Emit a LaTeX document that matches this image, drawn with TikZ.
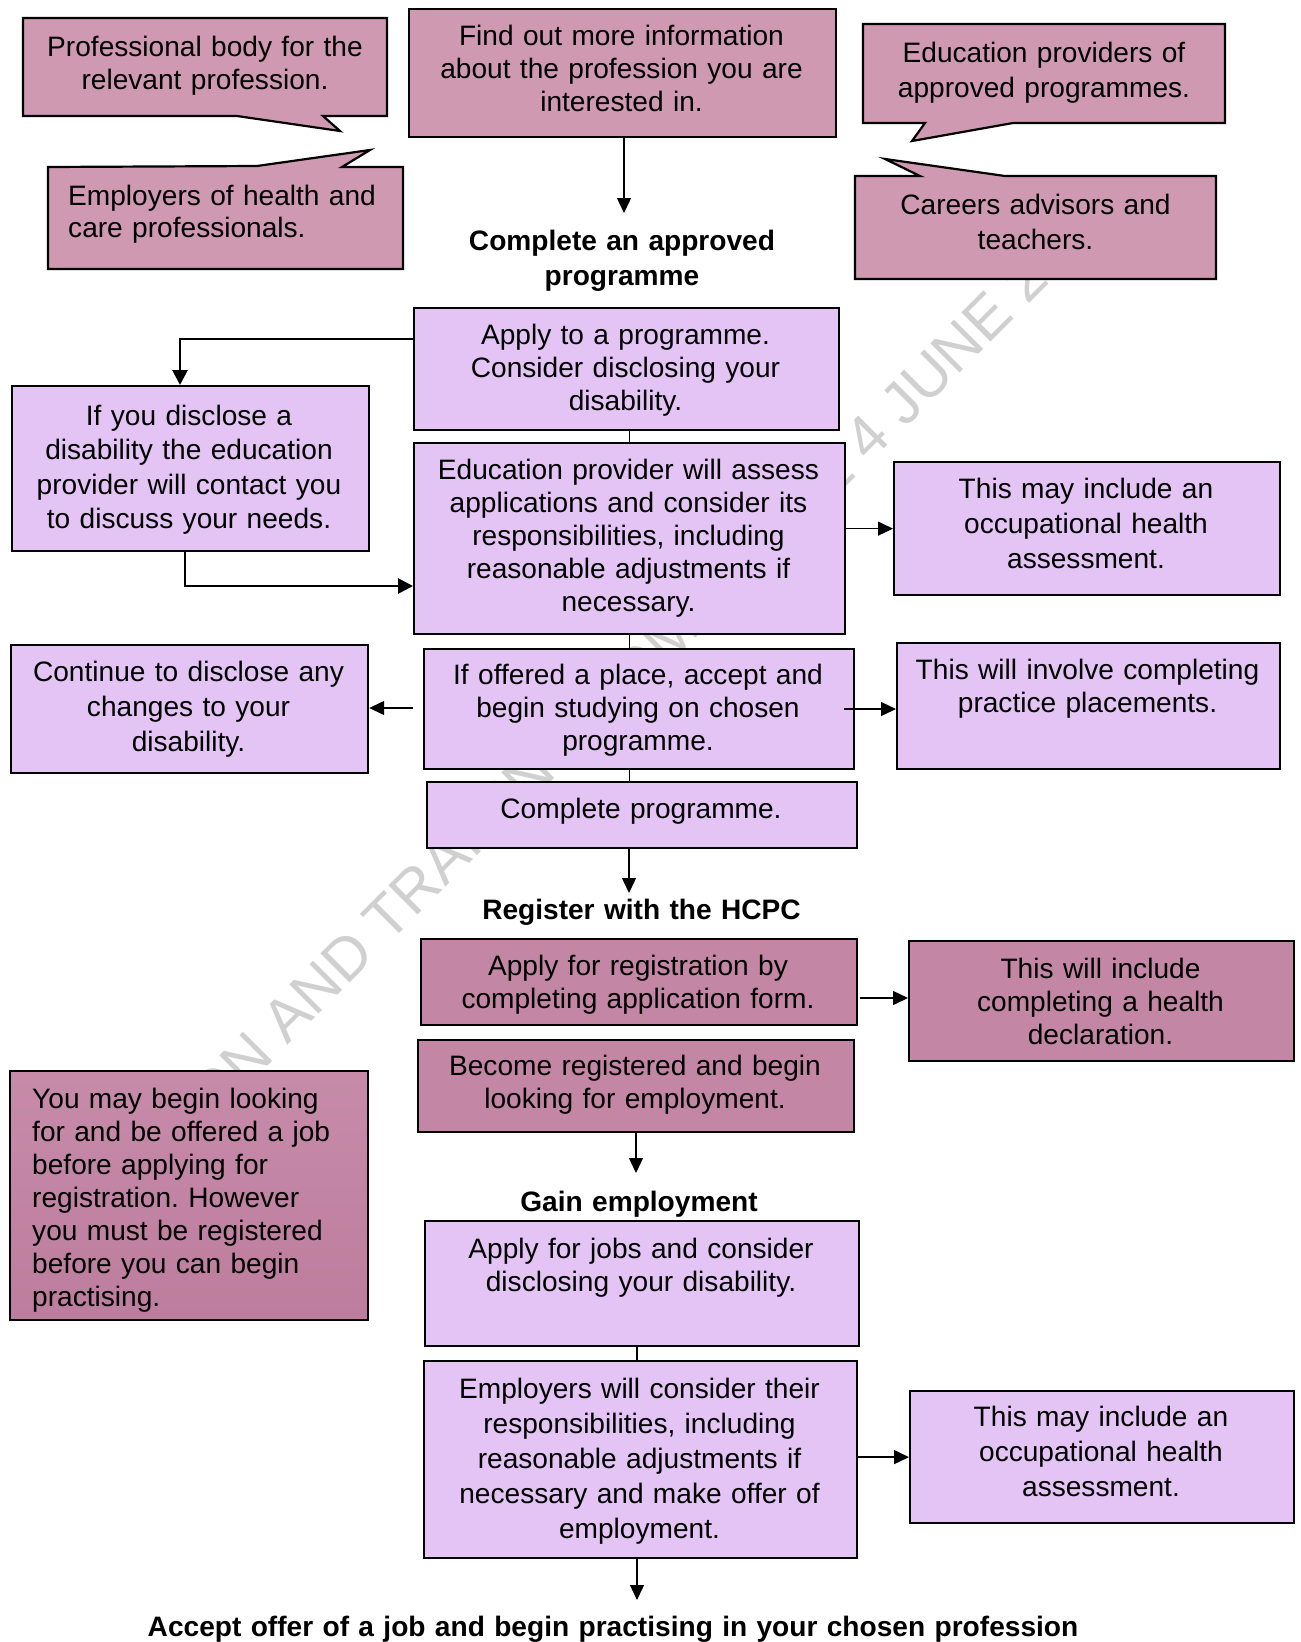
\documentclass[tikz,border=0pt]{standalone}
\usepackage{fontspec}
\setmainfont{Liberation Sans}
\usetikzlibrary{arrows.meta}
\definecolor{callC}{RGB}{208,153,178}
\definecolor{regC}{RGB}{196,134,165}
\definecolor{lilac}{RGB}{228,196,245}
\definecolor{wmC}{RGB}{208,208,208}
\definecolor{mayTop}{RGB}{199,139,170}
\definecolor{mayBot}{RGB}{189,125,158}
\newcommand\fa{\fontsize{28.1pt}{33pt}\selectfont}
\newcommand\fb{\fontsize{28.1pt}{35pt}\selectfont}
\newcommand\fab{\fontsize{28.1pt}{34.5pt}\selectfont}
\frenchspacing
\begin{document}
\begin{tikzpicture}[x=1pt,y=-1pt,
  bx/.style={draw=black, line width=2.2pt, inner sep=0pt, anchor=north west},
  lbox/.style={bx, fill=lilac},
  rbox/.style={bx, fill=regC},
  cbox/.style={bx, fill=callC},
  callout/.style={draw=black, line width=2.2pt, fill=callC, line join=miter},
  ctxt/.style={inner sep=0pt, text width=520pt, align=center, anchor=base, font=\fa},
  ctxtb/.style={ctxt, font=\fb},
  ltxt/.style={inner sep=0pt, text width=420pt, align=left, anchor=base west, font=\fa},
  htxt/.style={inner sep=0pt, text width=1100pt, align=center, anchor=base, font=\fb\bfseries},
  conn/.style={line width=1.4pt, -{Triangle[length=15pt,width=14pt]}},
  thk/.style={line width=2.8pt, -{Triangle[length=15pt,width=15pt]}},
  plain/.style={line width=1.4pt}
]
\useasboundingbox (0,0) rectangle (1301,1642);
\fill[white] (0,0) rectangle (1301,1642);

% watermark
\begin{scope}
\clip (14,0) rectangle (1301,1642);
\node[rotate=45, text=wmC, inner sep=0pt, font=\fontsize{60pt}{60pt}\selectfont] (wm) at (561,743) {EDUCATION AND TRAINING COMMITTEE 4 JUNE 2015};
\end{scope}

% callouts
\draw[callout] (23,18) -- (387,18) -- (387,116) -- (323,116) -- (340,131) -- (237,116) -- (23,116) -- cycle;
\draw[callout] (48,167) -- (257,166) -- (370,150) -- (342,167) -- (403,167) -- (403,269) -- (48,269) -- cycle;
\draw[callout] (863,24) -- (1225,24) -- (1225,123) -- (1013,123) -- (912,141) -- (925,123) -- (863,123) -- cycle;
\draw[callout] (855,176) -- (920,176) -- (885,159) -- (1005,176) -- (1216,176) -- (1216,279) -- (855,279) -- cycle;
\node[ctxt] (prof) at (205,56) {Professional body for the\\relevant profession.};
\node[ltxt, font=\fontsize{28.1pt}{32pt}\selectfont] (emplc) at (68,205) {Employers of health and\\care professionals.};
\node[ctxtb] (edu) at (1044,62.5) {Education providers of\\approved programmes.};
\node[ctxtb] (care) at (1035.5,214) {Careers advisors and\\teachers.};

% boxes
\node[cbox, minimum width=427pt, minimum height=128pt] (find) at (408,8) {};
\node[lbox, minimum width=425pt, minimum height=122pt] (apply) at (413,307) {};
\node[lbox, minimum width=431pt, minimum height=191pt] (edprov) at (413,442) {};
\node[lbox, minimum width=357pt, minimum height=165pt] (disc) at (11,385) {};
\node[lbox, minimum width=386pt, minimum height=133pt] (occ1) at (893,461) {};
\node[lbox, minimum width=357pt, minimum height=128pt] (cont) at (10,644) {};
\node[lbox, minimum width=430pt, minimum height=120pt] (offer) at (423,648) {};
\node[lbox, minimum width=383pt, minimum height=126pt] (inv) at (896,642) {};
\node[lbox, minimum width=430pt, minimum height=66pt] (compl) at (426,781) {};
\node[rbox, minimum width=436pt, minimum height=86pt] (reg) at (420,938) {};
\node[rbox, minimum width=385pt, minimum height=120pt] (incl) at (908,940) {};
\node[rbox, minimum width=436pt, minimum height=92pt] (becm) at (417,1039) {};
\node[bx, top color=mayTop, bottom color=mayBot, minimum width=358pt, minimum height=249pt] (may) at (9,1070) {};
\node[lbox, minimum width=434pt, minimum height=125pt] (jobs) at (424,1220) {};
\node[lbox, minimum width=433pt, minimum height=197pt] (empl) at (423,1360) {};
\node[lbox, minimum width=384pt, minimum height=132pt] (occ2) at (909,1390) {};

% texts
\node[ctxt] (findt) at (621.5,45) {Find out more information\\about the profession you are\\interested in.};
\node[htxt] (hdr1) at (622,250) {Complete an approved\\programme};
\node[ctxt] (applyt) at (625.5,344) {Apply to a programme.\\Consider disclosing your\\disability.};
\node[ctxt] (edprovt) at (628.5,479.5) {Education provider will assess\\applications and consider its\\responsibilities, including\\reasonable adjustments if\\necessary.};
\node[ctxt, font=\fab] (disct) at (189,425) {If you disclose a\\disability the education\\provider will contact you\\to discuss your needs.};
\node[ctxtb] (occ1t) at (1086,498) {This may include an\\occupational health\\assessment.};
\node[ctxtb] (contt) at (188.5,681) {Continue to disclose any\\changes to your\\disability.};
\node[ctxt] (offert) at (638,684) {If offered a place, accept and\\begin studying on chosen\\programme.};
\node[ctxt] (invt) at (1087.5,679) {This will involve completing\\practice placements.};
\node[ctxt] (complt) at (641,818) {Complete programme.};
\node[htxt] (hdr2) at (641.5,919) {Register with the HCPC};
\node[ctxt] (regt) at (638,975) {Apply for registration by\\completing application form.};
\node[ctxt] (inclt) at (1100.5,978) {This will include\\completing a health\\declaration.};
\node[ctxt] (becmt) at (635,1075.5) {Become registered and begin\\looking for employment.};
\node[htxt] (hdr3) at (639,1211) {Gain employment};
\node[ltxt] (mayt) at (32,1108) {You may begin looking\\for and be offered a job\\before applying for\\registration. However\\you must be registered\\before you can begin\\practising.};
\node[ctxt] (jobst) at (641,1258) {Apply for jobs and consider\\disclosing your disability.};
\node[ctxtb] (emplt) at (639.5,1398) {Employers will consider their\\responsibilities, including\\reasonable adjustments if\\necessary and make offer of\\employment.};
\node[ctxtb] (occ2t) at (1101,1426) {This may include an\\occupational health\\assessment.};
\node[htxt] (hdr4) at (613,1636) {Accept offer of a job and begin practising in your chosen profession};

% connectors
\coordinate (t1) at (624,213);
\draw[conn] (find.south -| t1) -- (t1);
\draw[plain] (apply.south -| edprov.north) -- (edprov.north);
\coordinate (lb) at (180,339);
\draw[thk] (apply.west |- lb) -- (lb) -- (lb |- disc.north);
\coordinate (lb2) at (185,586);
\draw[thk] (disc.south -| lb2) -- (lb2) -- (lb2 -| edprov.west);
\draw[conn] (edprov.east |- occ1.west) -- (occ1.west);
\draw[plain] (edprov.south) -- (edprov.south |- offer.north);
\coordinate (a1) at (844,709);
\draw[conn] (a1) -- (a1 -| inv.west);
\coordinate (a2) at (413,708);
\draw[conn] (a2) -- (a2 -| cont.east);
\draw[plain] (offer.south -| edprov.south) -- (compl.north -| edprov.south);
\coordinate (t2) at (629,893);
\draw[conn] (compl.south -| t2) -- (t2);
\coordinate (a3) at (860,998);
\draw[conn] (a3) -- (a3 -| incl.west);
\coordinate (t3) at (636,1173);
\draw[conn] (becm.south -| t3) -- (t3);
\coordinate (v3) at (637,0);
\draw[plain] (jobs.south -| v3) -- (empl.north -| v3);
\draw[conn] (empl.east |- occ2.west) -- (occ2.west);
\coordinate (t4) at (637,1600);
\draw[conn] (empl.south -| t4) -- (t4);
\end{tikzpicture}
\end{document}
